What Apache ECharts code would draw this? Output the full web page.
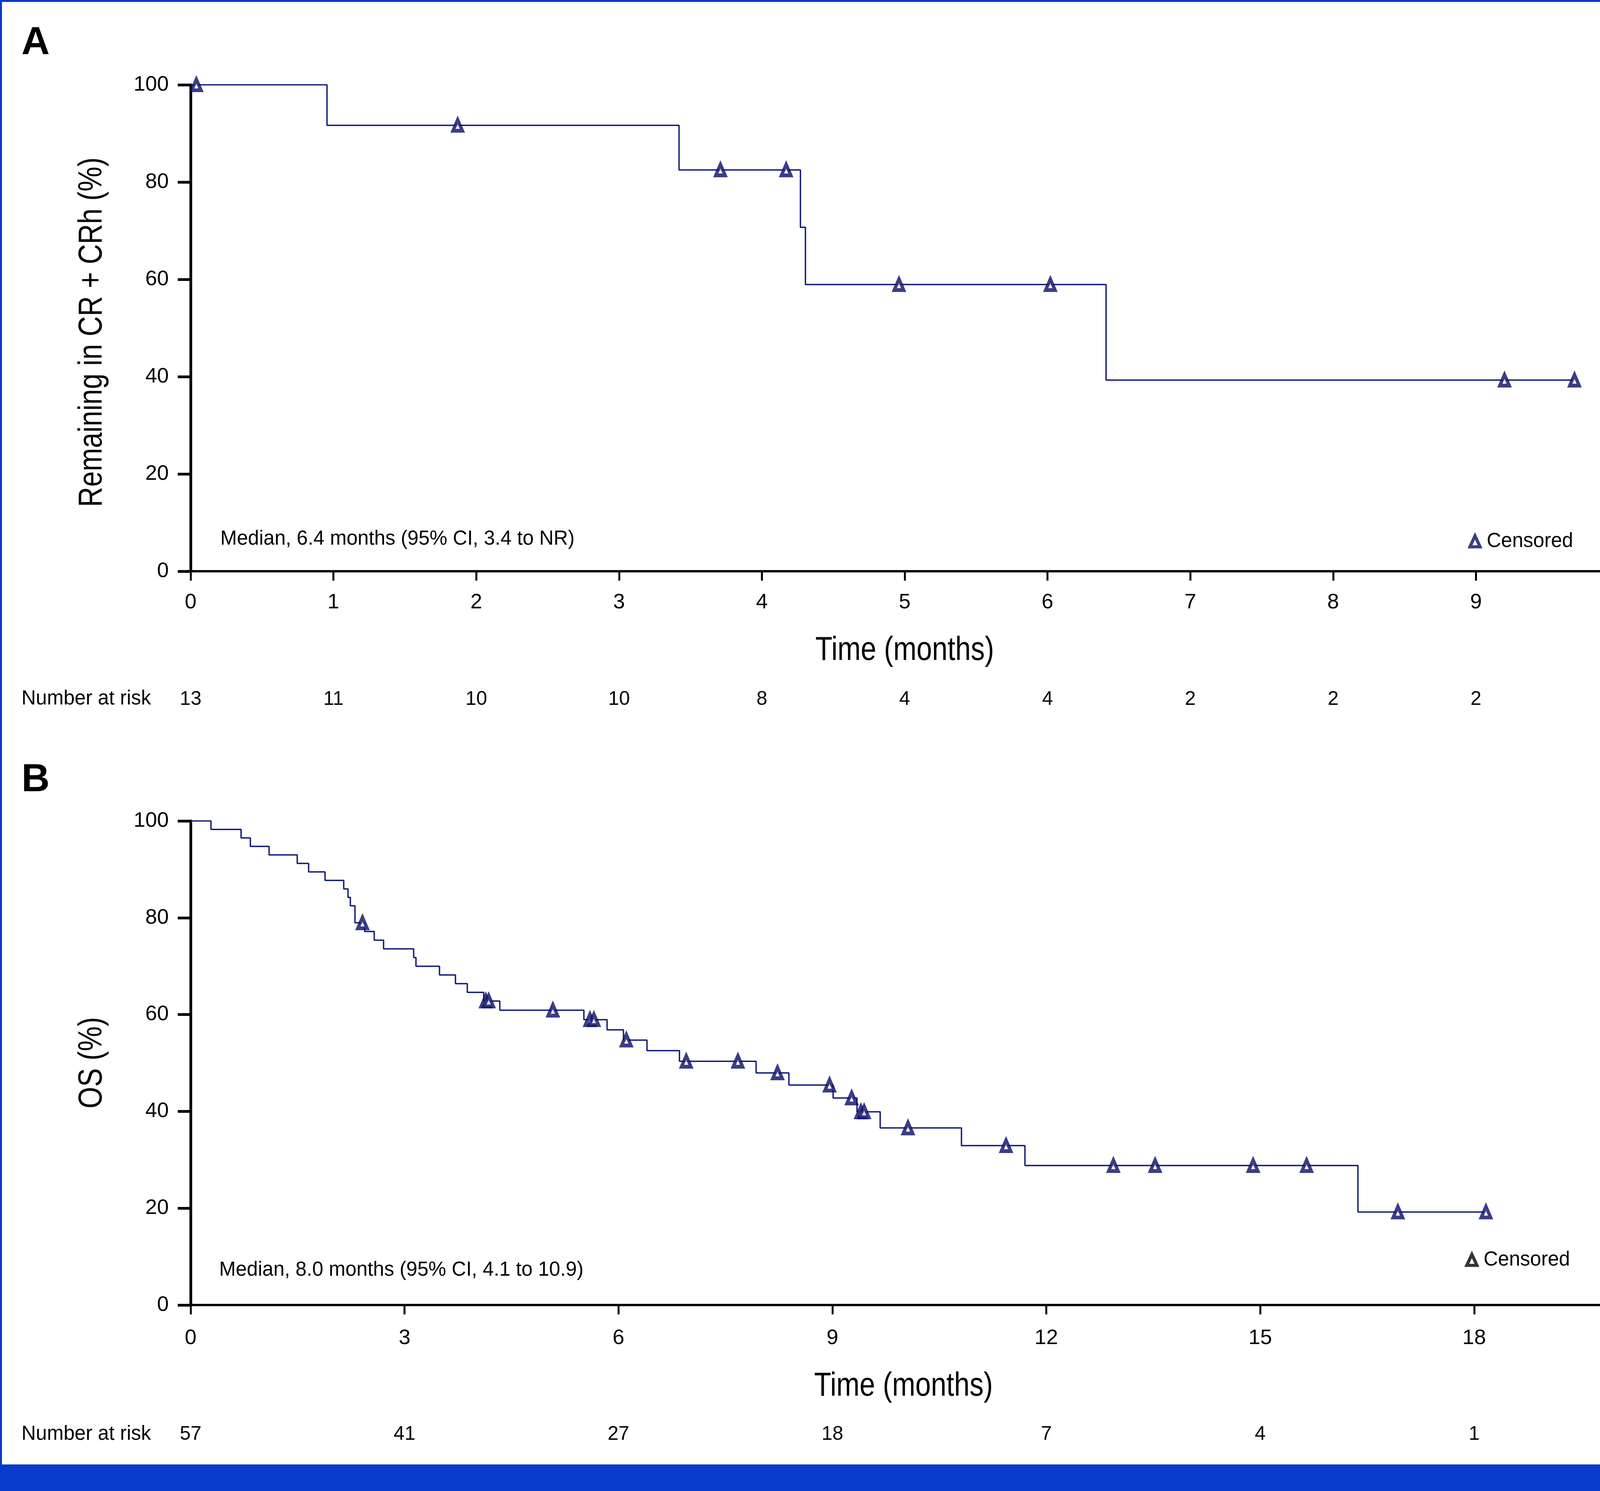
<!DOCTYPE html>
<html>
<head>
<meta charset="utf-8">
<script src="https://cdn.jsdelivr.net/npm/echarts@6/dist/echarts.min.js"></script>
<style>
html,body{margin:0;padding:0;background:#fff;}
#chart{width:4230px;height:3816px;}
</style>
</head>
<body>
<div id="chart"></div>
<script>
// ---- Panel A data (remaining in CR + CRh) ----
const timesA = [0, 0.955, 3.42, 4.27, 4.305, 6.41, 9.69];
const survA  = [100, 91.67, 82.5, 70.71, 58.93, 39.29, 39.29];
const censorA = [0.04, 1.87, 3.71, 4.17, 4.96, 6.02, 9.2, 9.69];
const riskTicksA = [0, 1, 2, 3, 4, 5, 6, 7, 8, 9, 10];
const riskA = [13, 11, 10, 10, 8, 4, 4, 2, 2, 2, 0];

// ---- Panel B data (OS) ----
const timesB = [0, 0.285, 0.707, 0.838, 1.10, 1.495, 1.655, 1.885, 2.147, 2.207, 2.24, 2.305,
  2.44, 2.575, 2.706, 3.128, 3.16, 3.49, 3.714, 3.88, 4.11, 4.336, 5.515, 5.84, 6.07, 6.40,
  6.855, 7.93, 8.39, 9.01, 9.345, 9.67, 10.81, 11.70, 16.37, 18.165];
const survB = [100, 98.25, 96.49, 94.74, 92.98, 91.23, 89.47, 87.72, 85.96, 84.21, 82.46, 78.95,
  77.15, 75.36, 73.57, 71.77, 69.98, 68.18, 66.39, 64.59, 62.80, 60.90, 58.94, 56.84, 54.73, 52.54,
  50.35, 47.95, 45.43, 42.76, 39.91, 36.58, 32.92, 28.81, 19.21, 19.21];
const censorB = [2.41, 4.14, 4.18, 5.08, 5.60, 5.655, 6.11, 6.95, 7.675, 8.23, 8.96, 9.27, 9.40,
  9.445, 10.06, 11.435, 12.94, 13.525, 14.90, 15.65, 16.93, 18.165];
const riskTicksB = [0, 3, 6, 9, 12, 15, 18];
const riskB = [57, 41, 27, 18, 7, 4, 1];

const FONT = "'Liberation Sans', Arial, Helvetica, sans-serif";
const LINE = '#111a7a';
const MARK = '#0a0d66';
const BLUE = '#0a3ac9';
const COND = 0.84; // horizontal squeeze for condensed axis titles

function survAt(times, surv, t) {
  let v = surv[0];
  for (let i = 0; i < times.length; i++) { if (times[i] <= t) v = surv[i]; }
  return v;
}

function mainX(grid, max, interval, labelMargin) {
  return {
    gridIndex: grid, type: 'value', min: 0, max: max, interval: interval, position: 'bottom',
    axisLine: { show: true, onZero: false, lineStyle: { color: '#000', width: 6 } },
    axisTick: { show: true, length: 24, lineStyle: { color: '#000', width: 5 } },
    axisLabel: { fontSize: 54, lineHeight: 54, fontFamily: FONT, color: '#000', margin: labelMargin },
    splitLine: { show: false }
  };
}
function riskX(grid, max, interval, ticks, risk, margin) {
  return {
    gridIndex: grid, type: 'value', min: 0, max: max, interval: interval, position: 'bottom',
    axisLine: { show: false }, axisTick: { show: false }, splitLine: { show: false },
    axisLabel: { fontSize: 50, lineHeight: 50, fontFamily: FONT, color: '#000', margin: margin,
      formatter: function (v) { const i = ticks.indexOf(v); return i < 0 ? '' : String(risk[i]); } }
  };
}
function mainY(grid) {
  return {
    gridIndex: grid, type: 'value', min: 0, max: 100, interval: 20,
    axisLine: { show: true, onZero: false, lineStyle: { color: '#000', width: 7 } },
    axisTick: { show: true, length: 33, lineStyle: { color: '#000', width: 7 } },
    axisLabel: { fontSize: 54, lineHeight: 54, fontFamily: FONT, color: '#000', margin: 56 },
    splitLine: { show: false }
  };
}
function title(text, x, y, rot) {
  return { type: 'text', x: x, y: y, rotation: rot, scaleX: COND, silent: true,
    style: { text: text, fontSize: 85, fontFamily: FONT, fill: '#000', align: 'center', verticalAlign: 'middle' } };
}
function label(text, x, y, size, bold) {
  return { type: 'text', x: x, y: y, silent: true,
    style: { text: text, fontSize: size, fontWeight: bold ? 'bold' : 'normal', fontFamily: FONT, fill: '#000', align: 'left', verticalAlign: 'middle' } };
}

const chart = echarts.init(document.getElementById('chart'), null, { renderer: 'canvas' });
const option = {
  animation: false,
  backgroundColor: '#fff',
  grid: [
    { left: 488, top: 217, width: 3656, height: 1245 },
    { left: 488, top: 2101, width: 3651, height: 1239 }
  ],
  xAxis: [
    mainX(0, 10, 1, 53),
    riskX(0, 10, 1, riskTicksA, riskA, 303),
    mainX(1, 20, 3, 58),
    riskX(1, 20, 3, riskTicksB, riskB, 306)
  ],
  yAxis: [ mainY(0), mainY(1) ],
  legend: [
    { data: ['Censored'], left: 3754, top: 1355, icon: 'triangle', itemWidth: 26, itemHeight: 28,
      selectedMode: false, itemStyle: { color: '#fff', borderColor: MARK, borderWidth: 8 },
      textStyle: { fontSize: 51, fontFamily: FONT, color: '#000', padding: [0, 0, 0, 12] } },
    { data: ['Censored'], left: 3746, top: 3194, icon: 'triangle', itemWidth: 26, itemHeight: 28,
      selectedMode: false, itemStyle: { color: '#fff', borderColor: '#000', borderWidth: 8 },
      textStyle: { fontSize: 51, fontFamily: FONT, color: '#000', padding: [0, 0, 0, 12] } }
  ],
  series: [
    { type: 'line', name: 'KM A', xAxisIndex: 0, yAxisIndex: 0, step: 'end', showSymbol: false,
      lineStyle: { color: LINE, width: 3.5 }, data: timesA.map((t, i) => [t, survA[i]]), z: 3 },
    { type: 'scatter', name: 'Censored', xAxisIndex: 0, yAxisIndex: 0, symbol: 'triangle',
      symbolSize: [24, 28], itemStyle: { color: '#fff', borderColor: MARK, borderWidth: 9 },
      data: censorA.map(t => [t, survAt(timesA, survA, t)]), z: 4 },
    { type: 'line', name: 'KM B', xAxisIndex: 2, yAxisIndex: 1, step: 'end', showSymbol: false,
      lineStyle: { color: LINE, width: 3.5 }, data: timesB.map((t, i) => [t, survB[i]]), z: 3 },
    { type: 'scatter', name: 'Censored', xAxisIndex: 2, yAxisIndex: 1, symbol: 'triangle',
      symbolSize: [24, 28], itemStyle: { color: '#fff', borderColor: MARK, borderWidth: 9 },
      data: censorB.map(t => [t, survAt(timesB, survB, t)]), z: 4 }
  ],
  graphic: [
    { type: 'rect', shape: { x: 0, y: 0, width: 4230, height: 5 }, style: { fill: BLUE }, silent: true },
    { type: 'rect', shape: { x: 0, y: 0, width: 5, height: 3816 }, style: { fill: BLUE }, silent: true },
    { type: 'rect', shape: { x: 4225, y: 0, width: 5, height: 3816 }, style: { fill: BLUE }, silent: true },
    { type: 'rect', shape: { x: 0, y: 3748, width: 4230, height: 68 }, style: { fill: BLUE }, silent: true },
    label('A', 55, 111, 100, true),
    label('B', 55, 1997, 100, true),
    title('Time (months)', 2316, 1666, 0),
    title('Time (months)', 2313, 3549, 0),
    title('Remaining in CR + CRh (%)', 237, 850, Math.PI / 2),
    title('OS (%)', 237, 2720, Math.PI / 2),
    label('Median, 6.4 months (95% CI, 3.4 to NR)', 564, 1380, 51, false),
    label('Median, 8.0 months (95% CI, 4.1 to 10.9)', 561, 3251, 51, false),
    label('Number at risk', 55, 1789, 51, false),
    label('Number at risk', 55, 3671, 51, false)
  ]
};
chart.setOption(option);
</script>
</body>
</html>
